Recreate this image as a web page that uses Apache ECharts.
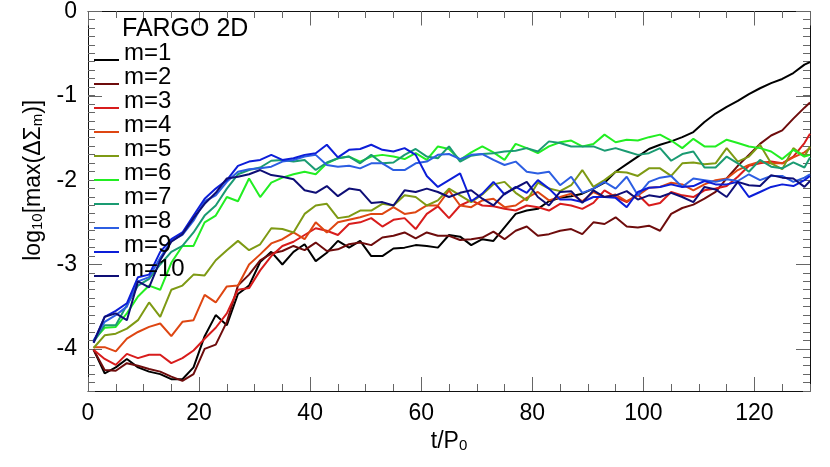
<!DOCTYPE html>
<html>
<head>
<meta charset="utf-8">
<script src="https://cdn.jsdelivr.net/npm/echarts@6/dist/echarts.min.js"></script>
<style>
html, body { margin: 0; padding: 0; background: #fff; }
#chart { width: 830px; height: 467px; }
</style>
</head>
<body>
<div id="chart"></div>
<script>
// sample times t/P0
const t = [1,3,5,7,9,11,13,15,17,19,
  21,23,25,27,29,31,33,35,37,39,
  41,43,45,47,49,51,53,55,57,59,
  61,63,65,67,69,71,73,75,77,79,
  81,83,85,87,89,91,93,95,97,99,
  101,103,105,107,109,111,113,115,117,119,
  121,123,125,127,129,130]

// log10[max(dSigma_m)] for each mode
const m1 = [-4.01,-4.29,-4.22,-4.12,-4.22,-4.27,-4.3,-4.36,-4.36,-4.22,
  -3.85,-3.6,-3.72,-3.35,-3.25,-2.97,-2.85,-3.0,-2.85,-2.76,
  -2.96,-2.86,-2.72,-2.8,-2.72,-2.9,-2.9,-2.81,-2.8,-2.77,
  -2.78,-2.8,-2.65,-2.67,-2.77,-2.7,-2.72,-2.56,-2.4,-2.36,
  -2.34,-2.25,-2.21,-2.19,-2.16,-2.1,-2.03,-1.9,-1.81,-1.72,
  -1.63,-1.58,-1.54,-1.49,-1.43,-1.31,-1.21,-1.13,-1.06,-0.98,
  -0.91,-0.85,-0.8,-0.73,-0.63,-0.6]
const m2 = [-4.01,-4.25,-4.26,-4.17,-4.2,-4.24,-4.27,-4.33,-4.38,-4.3,
  -4.0,-3.95,-3.68,-3.25,-3.12,-2.95,-2.87,-2.84,-2.78,-2.83,
  -2.74,-2.84,-2.82,-2.76,-2.74,-2.77,-2.68,-2.66,-2.62,-2.69,
  -2.62,-2.66,-2.66,-2.71,-2.7,-2.68,-2.61,-2.7,-2.6,-2.55,
  -2.66,-2.64,-2.6,-2.58,-2.64,-2.5,-2.52,-2.44,-2.55,-2.56,
  -2.54,-2.6,-2.4,-2.33,-2.29,-2.22,-2.14,-1.98,-1.83,-1.7,
  -1.57,-1.47,-1.41,-1.27,-1.14,-1.08]
const m3 = [-4.01,-4.12,-4.19,-4.06,-4.11,-4.07,-4.07,-4.17,-4.11,-4.02,
  -3.88,-3.75,-3.58,-3.3,-3.28,-3.07,-2.9,-2.78,-2.73,-2.65,
  -2.57,-2.6,-2.65,-2.52,-2.5,-2.45,-2.55,-2.47,-2.45,-2.58,
  -2.4,-2.31,-2.45,-2.3,-2.24,-2.3,-2.31,-2.34,-2.36,-2.3,
  -2.32,-2.36,-2.28,-2.3,-2.34,-2.27,-2.12,-2.2,-2.26,-2.17,
  -2.3,-2.27,-2.14,-2.18,-2.2,-2.12,-2.1,-2.07,-1.96,-1.83,
  -1.8,-1.78,-1.8,-1.72,-1.56,-1.45]
const m4 = [-3.98,-3.98,-4.03,-3.88,-3.8,-3.74,-3.7,-3.85,-3.68,-3.66,
  -3.36,-3.45,-3.26,-3.25,-3.0,-2.88,-2.75,-2.7,-2.62,-2.7,
  -2.5,-2.62,-2.5,-2.47,-2.44,-2.4,-2.4,-2.32,-2.4,-2.38,
  -2.3,-2.3,-2.12,-2.3,-2.32,-2.24,-2.22,-2.32,-2.3,-2.21,
  -2.14,-2.24,-2.2,-2.16,-2.25,-2.14,-2.2,-2.17,-2.25,-2.18,
  -2.09,-2.08,-2.03,-2.05,-2.12,-2.05,-2.0,-1.98,-1.88,-1.82,
  -1.78,-1.8,-1.8,-1.73,-1.67,-1.62]
const m5 = [-3.99,-3.84,-3.82,-3.76,-3.66,-3.45,-3.62,-3.3,-3.25,-3.12,
  -3.13,-2.95,-2.83,-2.72,-2.83,-2.76,-2.57,-2.58,-2.62,-2.4,
  -2.3,-2.28,-2.45,-2.43,-2.36,-2.36,-2.28,-2.3,-2.18,-2.2,
  -2.3,-2.24,-2.1,-2.18,-2.26,-2.17,-2.05,-2.02,-2.15,-2.24,
  -2.03,-2.1,-2.13,-2.06,-1.88,-2.08,-2.0,-1.9,-1.91,-1.95,
  -1.86,-1.86,-1.95,-1.8,-1.79,-1.81,-1.8,-1.62,-1.78,-1.72,
  -1.58,-1.8,-1.87,-1.62,-1.72,-1.6]
const m6 = [-3.9,-3.75,-3.74,-3.58,-3.38,-3.25,-3.3,-2.98,-2.78,-2.78,
  -2.5,-2.42,-2.2,-2.25,-1.98,-2.2,-2.03,-1.97,-1.93,-1.9,
  -1.93,-1.8,-1.74,-1.72,-1.78,-1.72,-1.7,-1.72,-1.75,-1.68,
  -1.76,-1.6,-1.63,-1.76,-1.67,-1.6,-1.67,-1.76,-1.57,-1.62,
  -1.68,-1.6,-1.55,-1.53,-1.6,-1.57,-1.46,-1.55,-1.52,-1.53,
  -1.49,-1.46,-1.53,-1.62,-1.51,-1.6,-1.6,-1.52,-1.56,-1.6,
  -1.62,-1.66,-1.75,-1.64,-1.72,-1.7]
const m7 = [-3.92,-3.72,-3.72,-3.48,-3.25,-3.17,-3.0,-2.85,-2.78,-2.62,
  -2.42,-2.3,-2.1,-1.93,-1.88,-1.85,-1.77,-1.76,-1.78,-1.76,
  -1.88,-1.79,-1.74,-1.72,-1.8,-1.7,-1.8,-1.79,-1.7,-1.63,
  -1.72,-1.74,-1.6,-1.78,-1.71,-1.69,-1.68,-1.66,-1.65,-1.62,
  -1.66,-1.54,-1.56,-1.6,-1.6,-1.6,-1.65,-1.62,-1.66,-1.7,
  -1.68,-1.62,-1.77,-1.69,-1.66,-1.85,-1.85,-1.72,-1.8,-1.9,
  -1.76,-1.84,-1.86,-1.79,-1.85,-1.73]
const m8 = [-3.9,-3.68,-3.6,-3.5,-3.2,-3.15,-2.92,-2.72,-2.65,-2.48,
  -2.25,-2.18,-2.02,-1.9,-1.87,-1.86,-1.84,-1.78,-1.76,-1.72,
  -1.7,-1.82,-1.84,-1.83,-1.86,-1.8,-1.8,-1.88,-1.88,-1.8,
  -1.78,-1.7,-1.69,-1.75,-1.7,-1.69,-1.76,-1.82,-1.78,-1.9,
  -1.92,-1.9,-2.06,-1.96,-2.15,-2.1,-2.02,-2.1,-1.96,-2.18,
  -2.02,-1.97,-1.95,-2.08,-1.98,-2.0,-2.02,-1.99,-2.01,-1.93,
  -2.0,-1.95,-1.95,-2.02,-1.97,-1.93]
const m9 = [-3.92,-3.62,-3.55,-3.46,-3.15,-3.12,-2.85,-2.7,-2.62,-2.42,
  -2.22,-2.1,-2.0,-1.83,-1.78,-1.76,-1.7,-1.76,-1.74,-1.7,
  -1.68,-1.58,-1.73,-1.64,-1.63,-1.58,-1.64,-1.66,-1.62,-1.7,
  -1.95,-2.08,-2.0,-1.92,-2.25,-2.16,-2.02,-2.17,-2.08,-2.15,
  -2.0,-2.1,-2.23,-2.23,-2.26,-2.2,-2.2,-2.21,-2.32,-2.14,
  -2.09,-2.08,-2.05,-2.08,-2.07,-2.01,-2.05,-2.05,-2.02,-2.2,
  -2.14,-2.08,-2.05,-2.07,-2.0,-1.95]
const m10 = [-3.93,-3.62,-3.58,-3.66,-3.2,-3.27,-2.95,-2.73,-2.64,-2.45,
  -2.28,-2.15,-1.98,-1.96,-1.93,-1.88,-1.94,-1.96,-1.99,-2.12,
  -2.15,-2.07,-2.19,-2.1,-2.12,-2.27,-2.26,-2.3,-2.12,-2.14,
  -2.1,-2.14,-2.2,-2.15,-2.12,-2.22,-2.3,-2.16,-2.09,-2.02,
  -2.2,-2.3,-2.14,-2.13,-2.27,-2.12,-2.2,-2.18,-2.13,-2.23,
  -2.18,-2.2,-2.15,-2.2,-2.26,-2.08,-2.11,-2.2,-2.02,-2.06,
  -2.07,-1.94,-1.97,-1.98,-2.08,-2.01]

const names = ['m=1','m=2','m=3','m=4','m=5','m=6','m=7','m=8','m=9','m=10']
const values = [m1, m2, m3, m4, m5, m6, m7, m8, m9, m10]
const colors = ['#000000','#6e0c0c','#d81c1c','#de4612','#7e9a14','#22ee22','#1a9b72','#2c5ee2','#0c1ed8','#0e0e76']
const yMajor = [-4, -3, -2, -1, 0]

const font = "'Liberation Sans', Arial, Helvetica, sans-serif"
const chart = echarts.init(document.getElementById('chart'))

function frameX (grid, pos, interval, len, label) {
  return {
    type: 'value', gridIndex: grid, position: pos, min: 0, max: 130, interval: interval,
    axisLine: {show: grid === 0, onZero: false, lineStyle: {color: '#111', width: 1}},
    axisTick: {inside: true, length: len, lineStyle: {color: '#666', width: 1}},
    axisLabel: {show: label, showMaxLabel: false, margin: 11, fontSize: 23, color: '#000', fontFamily: font},
    splitLine: {show: false}
  }
}
function frameY (grid, pos, len, label) {
  let ax = {
    type: 'value', gridIndex: grid, position: pos, min: -4.5, max: 0,
    axisLine: {show: grid === 0, onZero: false, lineStyle: {color: '#111', width: 1}},
    axisTick: {inside: true, length: len, lineStyle: {color: '#666', width: 1}},
    axisLabel: {show: label, margin: 11, fontSize: 23, color: '#000', fontFamily: font},
    splitLine: {show: false}
  }
  if (grid === 0) {
    ax.axisTick.customValues = yMajor
    ax.axisLabel.customValues = yMajor
  } else {
    ax.interval = 0.1
  }
  return ax
}

let xAxes = [frameX(0, 'bottom', 20, 14, true), frameX(0, 'top', 20, 14, false),
  frameX(1, 'bottom', 5, 7, false), frameX(1, 'top', 5, 7, false)]
xAxes[0].name = '{a|t/P}{s|0}'
xAxes[0].nameLocation = 'middle'
xAxes[0].nameGap = 36
xAxes[0].nameTextStyle = {
  fontFamily: font, color: '#000',
  rich: {
    a: {fontSize: 23, fontFamily: font, color: '#000'},
    s: {fontSize: 15, fontFamily: font, color: '#000', verticalAlign: 'bottom', lineHeight: 2}
  }
}

let yAxes = [frameY(0, 'left', 14, true), frameY(0, 'right', 14, false),
  frameY(1, 'left', 7, false), frameY(1, 'right', 7, false)]
yAxes[0].name = '{a|log}{s|10}{a|[max(ΔΣ}{s|m}{a|)]}'
yAxes[0].nameLocation = 'middle'
yAxes[0].nameGap = 29
yAxes[0].nameTextStyle = {
  fontFamily: font, color: '#000',
  padding: [0, 0, 0, 42],
  rich: {
    a: {fontSize: 23, fontFamily: font, color: '#000'},
    s: {fontSize: 15, fontFamily: font, color: '#000', verticalAlign: 'bottom', lineHeight: 2}
  }
}

chart.setOption({
  animation: false,
  backgroundColor: '#fff',
  title: {
    text: 'FARGO 2D', left: 122, top: 17, padding: 0,
    textStyle: {fontSize: 25, fontWeight: 'normal', color: '#000', fontFamily: font}
  },
  legend: {
    orient: 'vertical', left: 94, top: 41, padding: 0,
    itemWidth: 25, itemHeight: 16, itemGap: 0,
    selectedMode: false,
    icon: 'path://M0,0h0.1v0.1h-0.1z M0,14h25v2h-25z',
    textStyle: {fontSize: 24, lineHeight: 18.5, color: '#000', fontFamily: font},
    data: names
  },
  grid: [
    {left: 88, right: 20, top: 11, bottom: 76},
    {left: 88, right: 20, top: 11, bottom: 76}
  ],
  xAxis: xAxes,
  yAxis: yAxes,
  series: names.map((n, i) => ({
    name: n,
    type: 'line',
    xAxisIndex: 0,
    yAxisIndex: 0,
    showSymbol: false,
    color: colors[i],
    lineStyle: {width: 2, color: colors[i]},
    data: t.map((x, k) => [x, values[i][k]])
  }))
})
</script>
</body>
</html>
